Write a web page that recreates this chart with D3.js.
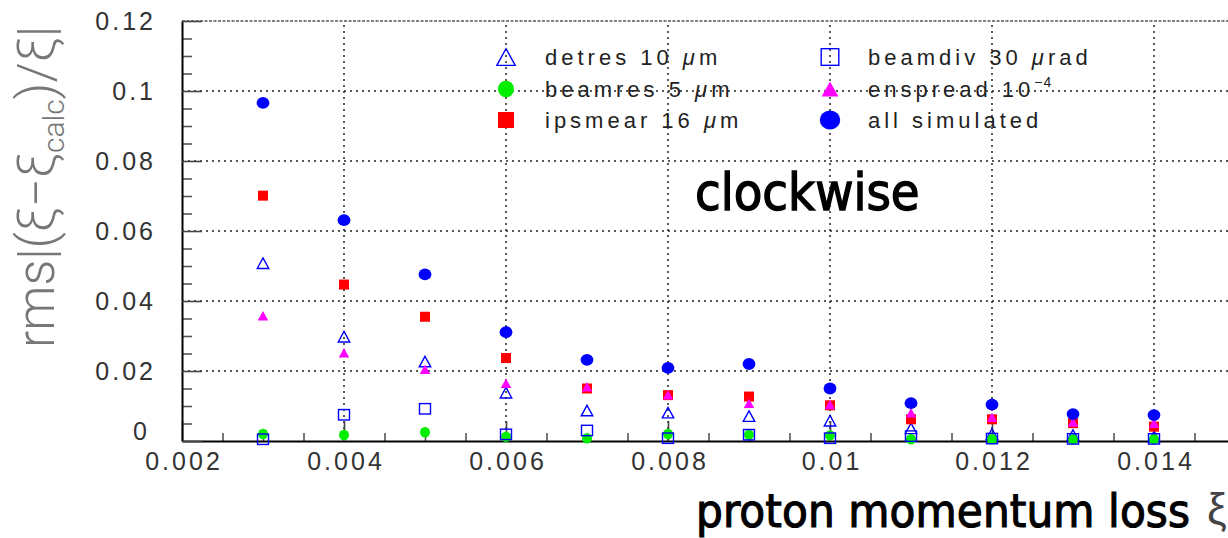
<!DOCTYPE html>
<html><head><meta charset="utf-8">
<script src="https://cdn.jsdelivr.net/npm/d3@7"></script>
<style>body{margin:0;background:#fff}svg{display:block}</style>
</head><body>
<svg id="c" width="1228" height="538"></svg>
<script>
// ---- data ----
const xValues   = [0.003,0.004,0.005,0.006,0.007,0.008,0.009,0.010,0.011,0.012,0.013,0.014];
const detres    = [0.0508,0.0298,0.0227,0.0138,0.0087,0.0081,0.0071,0.0058,0.0036,0.0020,0.0017,0.0013];
const beamres   = [0.0020,0.0017,0.0025,0.0012,0.0008,0.0020,0.0018,0.0016,0.0005,0.0005,0.0004,0.0005];
const ipsmear   = [0.0701,0.0447,0.0355,0.0237,0.0150,0.0131,0.0127,0.0102,0.0062,0.0062,0.0051,0.0041];
const beamdiv   = [0.0005,0.0075,0.0092,0.0019,0.0030,0.0008,0.0018,0.0008,0.0014,0.0007,0.0006,0.0006];
const enspread  = [0.0358,0.0252,0.0205,0.0165,0.0155,0.0132,0.0108,0.0104,0.0081,0.0068,0.0054,0.0051];
const allSim    = [0.0966,0.0631,0.0476,0.0311,0.0232,0.0209,0.0220,0.0150,0.0108,0.0104,0.0077,0.0074];

const xTickValues = [0.002,0.004,0.006,0.008,0.010,0.012,0.014];
const xTickLabels = ["0.002","0.004","0.006","0.008","0.01","0.012","0.014"];
const yTickValues = [0,0.02,0.04,0.06,0.08,0.10,0.12];
const yTickLabels = ["0","0.02","0.04","0.06","0.08","0.1","0.12"];

// legend entries (column 1 then column 2)
const legendNames = [
  ["detres 10 ", ["μ"], "m"],
  ["beamres 5 ", ["μ"], "m"],
  ["ipsmear 16 ", ["μ"], "m"],
  ["beamdiv 30 ", ["μ"], "rad"],
  ["enspread 10", ["−4","sup"]],
  ["all simulated"]
];

// ---- setup ----
const svg = d3.select("#c");
svg.append("rect").attr("width",1228).attr("height",538).attr("fill","#fff");
const x = d3.scaleLinear().domain([0.002,0.015]).range([182,1235]);
const y = d3.scaleLinear().domain([0,0.12]).range([441,21]);

const gridDash = "2,4";
svg.append("g").selectAll("line").data(xTickValues.slice(1)).join("line")
  .attr("x1",d=>x(d)).attr("x2",d=>x(d)).attr("y1",y(0)).attr("y2",y(0.12))
  .attr("stroke","#222").attr("stroke-width",1.5).attr("stroke-dasharray",gridDash);
svg.append("g").selectAll("line").data(yTickValues.slice(1,-1)).join("line")
  .attr("x1",x(0.002)).attr("x2",1228).attr("y1",d=>y(d)).attr("y2",d=>y(d))
  .attr("stroke","#222").attr("stroke-width",1.5).attr("stroke-dasharray",gridDash);
svg.append("line").attr("x1",x(0.002)).attr("x2",1228).attr("y1",y(0.12)).attr("y2",y(0.12))
  .attr("stroke","#555").attr("stroke-width",1.6).attr("stroke-dasharray","3,1.5");

const xMinor = d3.range(4,31).filter(i=>i%4!==0).map(i=>i*0.0005);
const yMinor = d3.range(0,25).filter(i=>i%4!==0).map(i=>i*0.005);

const tickFont = "'Liberation Sans', Arial, sans-serif";
const ls = 3;

const gxMinor = svg.append("g").attr("transform",`translate(0,${y(0)})`)
  .call(d3.axisBottom(x).tickValues(xMinor).tickSize(-8).tickFormat(""));
const gyMinor = svg.append("g").attr("transform",`translate(${x(0.002)},0)`)
  .call(d3.axisLeft(y).tickValues(yMinor).tickSize(-10).tickFormat(""));
[gxMinor,gyMinor].forEach(g=>{g.select(".domain").remove();g.selectAll("line").attr("stroke","#555").attr("stroke-width",1.6);});

const gx = svg.append("g").attr("transform",`translate(0,${y(0)})`)
  .call(d3.axisBottom(x).tickValues(xTickValues).tickSizeInner(-20).tickSizeOuter(0).tickPadding(11)
        .tickFormat((d,i)=>xTickLabels[i]));
const gy = svg.append("g").attr("transform",`translate(${x(0.002)},0)`)
  .call(d3.axisLeft(y).tickValues(yTickValues).tickSizeInner(-20).tickSizeOuter(0).tickPadding(26)
        .tickFormat((d,i)=>yTickLabels[i]));
[gx,gy].forEach(g=>{
  g.select(".domain").attr("stroke","#000").attr("stroke-width",2);
  g.selectAll(".tick line").attr("stroke","#444").attr("stroke-width",1.6);
  g.selectAll(".tick text").attr("font-family",tickFont).attr("font-size",25)
    .attr("letter-spacing",ls).attr("fill","#333");
});
gx.selectAll(".tick text").attr("dx",ls/2);
gy.selectAll(".tick text").filter(d=>d===0).attr("transform","translate(-6,-10)");

// ---- markers ----
function triPath(w,h){return `M0,${-h/2}L${w/2},${h/2}L${-w/2},${h/2}Z`;}
const series = [
  {vals:detres,  type:"otri",  color:"#0000ff"},
  {vals:beamres, type:"circle",color:"#00ee00"},
  {vals:ipsmear, type:"square",color:"#ff0000"},
  {vals:beamdiv, type:"osq",   color:"#0000ff"},
  {vals:enspread,type:"tri",   color:"#ff00ff"},
  {vals:allSim,  type:"bcircle",color:"#0000ff"}
];
function drawMarker(g,type,color,s){
  if(type==="otri") g.append("path").attr("d",triPath(11.5*s,10.5*s)).attr("fill","none").attr("stroke",color).attr("stroke-width",1.4);
  else if(type==="tri") g.append("path").attr("d",triPath(10.5*s,9.5*s)).attr("fill",color);
  else if(type==="circle") g.append("ellipse").attr("rx",5*s).attr("ry",5.2*s).attr("fill",color);
  else if(type==="bcircle") g.append("ellipse").attr("rx",6.4*s).attr("ry",5.9*s).attr("fill",color);
  else if(type==="square") g.append("rect").attr("x",-5*s).attr("y",-5*s).attr("width",10*s).attr("height",10*s).attr("fill",color);
  else if(type==="osq") g.append("rect").attr("x",-5.5*s).attr("y",-5.2*s).attr("width",11*s).attr("height",10.4*s).attr("fill","none").attr("stroke",color).attr("stroke-width",1.4);
}
series.forEach(sr=>{
  const g = svg.append("g");
  sr.vals.forEach((v,i)=>{
    const m = g.append("g").attr("transform",`translate(${x(xValues[i])},${y(v)})`);
    drawMarker(m,sr.type,sr.color,1);
  });
});

// ---- legend ----
const legCol = [x(0.006), x(0.010)];
const legTextX = [545, 868];
const legRowY = [57, 89, 120];
const legendTypes = ["otri","circle","square","osq","tri","bcircle"];
const legendColors = ["#0000ff","#00ee00","#ff0000","#0000ff","#ff00ff","#0000ff"];
legendNames.forEach((parts,i)=>{
  const col = Math.floor(i/3), row = i%3;
  const m = svg.append("g").attr("transform",`translate(${legCol[col]},${legRowY[row]})`);
  drawMarker(m,legendTypes[i],legendColors[i],1.6);
  const t = svg.append("text").attr("x",legTextX[col]).attr("y",legRowY[row]+8)
    .attr("font-family",tickFont).attr("font-size",22).attr("letter-spacing",4).attr("fill","#222");
  parts.forEach(p=>{
    if(typeof p==="string") t.append("tspan").text(p);
    else if(p[1]==="sup") t.append("tspan").attr("font-size",14).attr("dy",-10).attr("letter-spacing",1).text(p[0]);
    else t.append("tspan").attr("font-style","italic").text(p[0]);
  });
});

// ---- titles ----
svg.append("text").attr("x",695).attr("y",210)
  .attr("font-family","'DejaVu Sans', sans-serif").attr("font-stretch","condensed")
  .attr("font-size",52).attr("fill","#000").attr("stroke","#000").attr("stroke-width",1.3)
  .text("clockwise");

svg.append("text").attr("x",696).attr("y",527)
  .attr("font-family","'DejaVu Sans', sans-serif").attr("font-stretch","condensed")
  .attr("font-size",47).attr("fill","#000").attr("stroke","#000").attr("stroke-width",1.1)
  .attr("textLength",494).attr("lengthAdjust","spacing")
  .text("proton momentum loss");
svg.append("text").attr("x",1207).attr("y",524)
  .attr("font-family",tickFont).attr("font-size",44).attr("fill","#444").text("ξ");

const yt = svg.append("text").attr("transform","translate(54,187) rotate(-90)")
  .attr("text-anchor","middle").attr("font-family","Roboto, 'Liberation Sans', sans-serif")
  .attr("font-weight",300).attr("font-size",51).attr("fill","#777");
yt.append("tspan").text("rms|(ξ−ξ");
yt.append("tspan").attr("font-size",30).attr("dy",10).text("calc");
yt.append("tspan").attr("dy",-10).text(")/ξ|");
</script>
</body></html>
